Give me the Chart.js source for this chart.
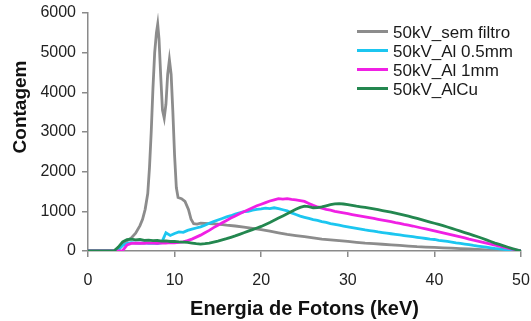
<!DOCTYPE html>
<html>
<head>
<meta charset="utf-8">
<script src="https://cdn.jsdelivr.net/npm/chart.js@4/dist/chart.umd.min.js"></script>
<style>
  html, body { margin: 0; padding: 0; background: #fff; }
</style>
</head>
<body>
<canvas id="chart" width="531" height="321"></canvas>
<script>
// energy grid (keV) for the filtered spectra
const energy = [
  0, 0.5, 1, 1.5, 2, 2.5, 3, 3.5, 4, 4.5, 5, 5.5, 6, 6.5, 7, 7.5, 8, 8.5, 9, 9.5,
  10, 10.5, 11, 11.5, 12, 12.5, 13, 13.5, 14, 14.5, 15, 15.5, 16, 16.5, 17, 17.5, 18, 18.5, 19, 19.5,
  20, 20.5, 21, 21.5, 22, 22.5, 23, 23.5, 24, 24.5, 25, 25.5, 26, 26.5, 27, 27.5, 28, 28.5, 29, 29.5,
  30, 30.5, 31, 31.5, 32, 32.5, 33, 33.5, 34, 34.5, 35, 35.5, 36, 36.5, 37, 37.5, 38, 38.5, 39, 39.5,
  40, 40.5, 41, 41.5, 42, 42.5, 43, 43.5, 44, 44.5, 45, 45.5, 46, 46.5, 47, 47.5, 48, 48.5, 49, 49.5, 50
];

const al05 = [
  0, 0, 0, 0, 0, 0, 0, 30, 140, 190, 210, 200, 195, 205, 190, 200, 185, 210, 460, 390,
  440, 480, 470, 520, 550, 580, 610, 650, 700, 740, 780, 820, 860, 890, 930, 960, 990, 1000, 1030, 1050,
  1060, 1080, 1070, 1090, 1070, 1040, 1010, 960, 920, 880, 850, 820, 790, 770, 740, 720, 690, 670, 650, 630,
  610, 590, 570, 550, 530, 515, 500, 480, 465, 450, 435, 420, 405, 390, 375, 360, 345, 330, 315, 300,
  290, 270, 255, 240, 225, 205, 190, 175, 160, 140, 125, 110, 95, 80, 65, 55, 40, 30, 20, 10, 0
];

const al1 = [
  0, 0, 0, 0, 0, 0, 0, 0, 10, 150, 190, 195, 200, 195, 205, 200, 195, 205, 200, 210,
  205, 215, 230, 260, 300, 350, 400, 460, 520, 590, 650, 710, 770, 830, 880, 940, 990, 1040, 1090, 1140,
  1180, 1220, 1260, 1290, 1320, 1310, 1320, 1300, 1290, 1270, 1250, 1200, 1150, 1110, 1080, 1050, 1030, 1000, 980, 960,
  940, 920, 900, 880, 860, 840, 820, 800, 780, 760, 740, 715, 695, 670, 650, 630, 605, 580, 555, 530,
  505, 480, 455, 430, 405, 380, 355, 330, 300, 275, 250, 225, 200, 175, 150, 125, 100, 75, 50, 25, 0
];

const alcu = [
  0, 0, 0, 0, 0, 0, 0, 100, 230, 290, 300, 280, 290, 270, 275, 260, 265, 250, 255, 240,
  245, 230, 225, 215, 200, 185, 175, 185, 200, 225, 250, 280, 310, 345, 380, 420, 460, 500, 540, 580,
  620, 670, 720, 775, 830, 885, 940, 995, 1050, 1100, 1130, 1120, 1090, 1095, 1110, 1140, 1170, 1190, 1195, 1185,
  1170, 1150, 1130, 1115, 1100, 1080, 1060, 1040, 1020, 1000, 980, 955, 930, 905, 880, 850, 820, 790, 760, 730,
  700, 670, 640, 605, 570, 535, 500, 465, 430, 395, 360, 320, 280, 240, 200, 165, 130, 95, 60, 30, 0
];

// unfiltered spectrum needs finer steps around the characteristic peaks
const energyRaw = [
  0, 1, 2, 3, 3.5, 4, 4.5, 5, 5.5, 6, 6.3, 6.6, 6.9, 7.1, 7.3, 7.5, 7.7, 7.9, 8.05, 8.2,
  8.4, 8.6, 8.8, 9.0, 9.2, 9.4, 9.6, 9.8, 10.0, 10.2, 10.4, 10.8, 11.2, 11.6, 11.9, 12.2, 12.6, 13, 14, 15,
  16, 17, 18, 19, 20, 21, 22, 23, 24, 25, 26, 27, 28, 29, 30, 31, 32, 33, 34, 35,
  36, 37, 38, 39, 40, 41, 42, 43, 44, 45, 46, 47, 48, 49, 50
];
const semFiltro = [
  0, 0, 0, 0, 80, 200, 260, 330, 450, 640, 800, 1050, 1450, 2100, 3000, 4100, 5000, 5500, 5720, 5350,
  4400, 3550, 3350, 3700, 4450, 4820, 4450, 3500, 2400, 1600, 1350, 1320, 1250, 1050, 800, 690, 680, 700, 690, 680,
  650, 630, 600, 570, 540, 500, 460, 420, 390, 360, 330, 300, 280, 260, 240, 220, 200, 185, 170, 155,
  140, 125, 110, 100, 90, 80, 70, 60, 50, 40, 30, 22, 14, 6, 0
];

const seriesNames = ['50kV_sem filtro', '50kV_Al 0.5mm', '50kV_Al 1mm', '50kV_AlCu'];
const seriesColors = ['#8c8c8c', '#1cc6f0', '#f020e4', '#23874f'];
const xTitle = 'Energia de Fotons (keV)';
const yTitle = 'Contagem';

const pts = (xs, ys) => xs.map((x, i) => ({ x: x, y: ys[i] }));

const FONT = '"Liberation Sans", Arial, sans-serif';

const overlay = {
  id: 'overlay',
  afterDraw(chart) {
    const ctx = chart.ctx;
    ctx.save();
    ctx.translate(26, 107);
    ctx.rotate(-Math.PI / 2);
    ctx.font = 'bold 19px ' + FONT;
    ctx.fillStyle = '#111';
    ctx.textAlign = 'center';
    ctx.textBaseline = 'alphabetic';
    ctx.fillText(yTitle, 0, 0);
    ctx.restore();

    // legend, top right inside the plot
    ctx.save();
    ctx.font = '17px ' + FONT;
    ctx.textBaseline = 'alphabetic';
    ctx.textAlign = 'left';
    seriesNames.forEach((name, i) => {
      const yc = 31.5 + i * 19;
      ctx.strokeStyle = seriesColors[i];
      ctx.lineWidth = 3;
      ctx.beginPath();
      ctx.moveTo(357, yc);
      ctx.lineTo(388, yc);
      ctx.stroke();
      ctx.fillStyle = '#1a1a1a';
      ctx.fillText(name, 393, yc + 6);
    });
    ctx.restore();
  }
};

const axisGrid = { display: true, drawOnChartArea: false, drawTicks: true, tickLength: 6, color: '#8a8a8a', lineWidth: 1.5 };

new Chart(document.getElementById('chart'), {
  type: 'line',
  data: {
    datasets: [
      { label: seriesNames[0], data: pts(energyRaw, semFiltro), borderColor: seriesColors[0], order: 3 },
      { label: seriesNames[1], data: pts(energy, al05), borderColor: seriesColors[1], order: 2 },
      { label: seriesNames[2], data: pts(energy, al1), borderColor: seriesColors[2], order: 1 },
      { label: seriesNames[3], data: pts(energy, alcu), borderColor: seriesColors[3], order: 0 }
    ]
  },
  options: {
    responsive: false,
    animation: false,
    devicePixelRatio: 1,
    layout: { padding: { top: 13, right: 10, left: 0, bottom: 0 } },
    elements: {
      point: { radius: 0 },
      line: { borderWidth: 2.8, tension: 0, fill: false }
    },
    plugins: { legend: { display: false }, tooltip: { enabled: false } },
    scales: {
      x: {
        type: 'linear', min: 0, max: 50,
        ticks: { stepSize: 10, color: '#222', padding: 14, font: { family: FONT, size: 16 }, callback: v => String(v) },
        grid: axisGrid,
        border: { display: true, color: '#8a8a8a', width: 1.5 },
        title: { display: true, text: xTitle, color: '#111', padding: { top: 0, bottom: 0 }, font: { family: FONT, size: 20, weight: 'bold' } },
        afterFit(s) { s.height = 70; s.paddingLeft = 0; s.paddingRight = 0; }
      },
      y: {
        min: 0, max: 6000,
        ticks: { stepSize: 1000, color: '#222', padding: 6, font: { family: FONT, size: 16 }, callback: v => String(v) },
        grid: axisGrid,
        border: { display: true, color: '#8a8a8a', width: 1.5 },
        afterFit(s) { s.width = 88; s.paddingTop = 0; s.paddingBottom = 0; }
      }
    }
  },
  plugins: [overlay]
});
</script>
</body>
</html>
